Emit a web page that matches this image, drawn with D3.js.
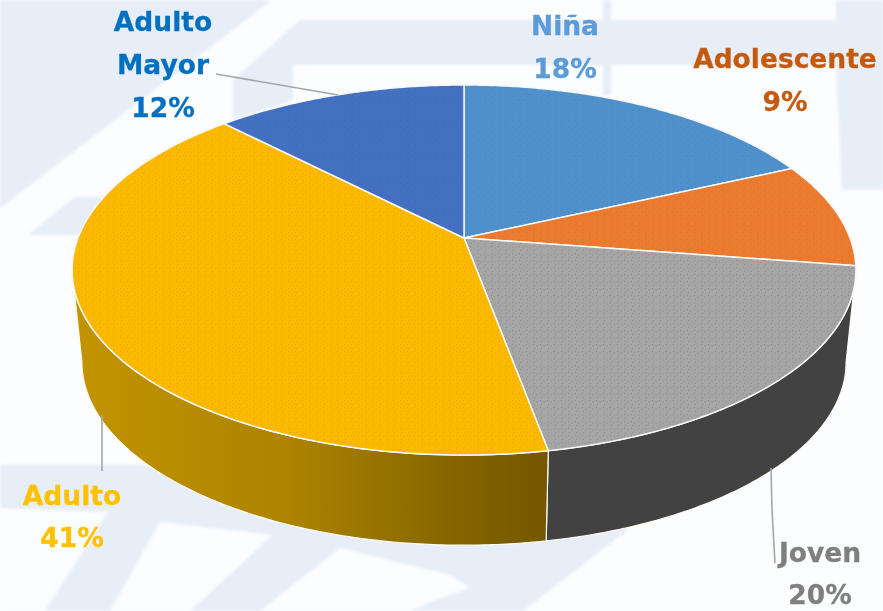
<!DOCTYPE html>
<html lang="es">
<head>
<meta charset="utf-8">
<style>
html,body{margin:0;padding:0;background:#fbfdff;overflow:hidden}
svg{display:block}
text{font-family:"DejaVu Sans",Verdana,sans-serif;font-weight:700;text-anchor:middle}
</style>
<script src="https://cdn.jsdelivr.net/npm/d3@7/dist/d3.min.js"></script>
</head>
<body>
<svg id="chart" width="883" height="611"></svg>
<script>
// Data
const categories = ["Niña", "Adolescente", "Joven", "Adulto", "Adulto Mayor"];
const shares = [18.2, 9.2, 19.7, 40.6, 12.3];

// Styles and layout (kept apart from the data)
const topColors = ["#4f90cd", "#ec7a2f", "#a5a5a5", "#fdb900", "#4470c1"];
const dotColors = ["#3f8a9e", "#c9702a", "#7d7f86", "#e0a000", "#3a64ad"];
const textColors = ["#5b9bd5", "#c55a11", "#7f7f7f", "#ffc000", "#0070c0"];
const labelLines = [["Niña"], ["Adolescente"], ["Joven"], ["Adulto"], ["Adulto", "Mayor"]];
const labelCenters = [[565, 35], [785, 68], [820, 562], [72, 505], [163, 31]];
const lineGaps = [43, 43, 42, 42, 43];
const leaders = [null, null, [[771, 468], [772, 510], [775, 563]], [[102, 415], [102, 471]], [[216, 74], [338, 95]]];
const geom = {cx: 464, apexY: 238, a: 386, b: 179.5, k: -0.173, ellipseY: 270, depth: 92, shrinkX: 0.975, shrinkY: 0.99};

const svg = d3.select("#chart");
const defs = svg.append("defs");

// Watermark behind the chart
defs.append("filter").attr("id", "soft").append("feGaussianBlur").attr("stdDeviation", 1.6);
defs.append("filter").attr("id", "softText").append("feGaussianBlur").attr("stdDeviation", 0.35);
const paleShapes = [
  [[0,0],[272,0],[0,208]],
  [[28,235],[75,197],[105,197],[80,235]],
  [[300,20],[603,20],[603,0],[611,0],[611,20],[836,20],[836,0],[883,0],[883,190],[842,190],[836,65],[611,65],[611,95],[603,95],[603,65],[293,65],[293,100],[233,120],[233,80]],
  [[0,465],[140,465],[630,528],[523,611],[0,611]]
];
const whiteShapes = [
  [[0,508],[108,512],[45,611],[0,611]],
  [[160,522],[273,535],[190,611],[110,611]],
  [[340,548],[450,575],[470,588],[445,596],[410,611],[260,611]]
];
const bg = svg.append("g").attr("filter", "url(#soft)");
const poly = d3.line().curve(d3.curveLinearClosed);
bg.selectAll("path.p").data(paleShapes).join("path").attr("class","p").attr("d", poly).attr("fill", "#e7eef8");
bg.selectAll("path.w").data(whiteShapes).join("path").attr("class","w").attr("d", poly).attr("fill", "#fbfdff");

// Dotted textures for the top faces
topColors.forEach((c, i) => {
  const p = defs.append("pattern").attr("id", "tex" + i).attr("patternUnits", "userSpaceOnUse")
    .attr("width", 7).attr("height", 7);
  p.append("rect").attr("width", 7).attr("height", 7).attr("fill", c);
  [[1.5,1.5],[5,3],[2.5,5.5]].forEach(d => p.append("circle").attr("cx", d[0]).attr("cy", d[1]).attr("r", 0.65).attr("fill", dotColors[i]).attr("opacity", 0.6));
});

// Side gradient
const g3 = defs.append("linearGradient").attr("id", "side3").attr("gradientUnits", "userSpaceOnUse")
  .attr("x1", 75).attr("x2", 549).attr("y1", 0).attr("y2", 0);
[[0,"#c39400"],[0.45,"#ad8300"],[0.8,"#856500"],[1,"#745700"]].forEach(s => g3.append("stop").attr("offset", s[0]).attr("stop-color", s[1]));
const sideFill = ["#3a5f8f", "#a85a22", "#424242", "url(#side3)", "#30508a"];

// Projection: pie plane -> screen with perspective
const project = (angle, r) => {
  const u = r * Math.sin(angle), v = -r * Math.cos(angle), w = 1 + geom.k * v;
  return [geom.cx + geom.a * u / w, geom.apexY + geom.b * v / w];
};
const projectBottom = angle => {
  const [x, y] = project(angle, 1);
  return [geom.cx + (x - geom.cx) * geom.shrinkX, geom.ellipseY + (y - geom.ellipseY) * geom.shrinkY + geom.depth];
};
const arcAngles = (from, to) => {
  const n = Math.max(2, Math.ceil((to - from) / 0.01));
  return d3.range(n + 1).map(i => from + (to - from) * i / n);
};

const slices = d3.pie().sort(null).value(d => d)(shares);
const line = d3.line();
// The rim faces the viewer between its widest points on screen
const frontFrom = Math.acos(geom.k), frontTo = 2 * Math.PI - frontFrom;

// Outer walls
svg.append("g").selectAll("path")
  .data(slices.filter(d => d.endAngle > frontFrom && d.startAngle < frontTo)).join("path")
  .attr("d", d => {
    const as = arcAngles(Math.max(d.startAngle, frontFrom), Math.min(d.endAngle, frontTo));
    return line(as.map(a => project(a, 1)).concat(as.slice().reverse().map(projectBottom))) + "Z";
  })
  .attr("fill", d => sideFill[d.index])
  .attr("stroke", "#fffdf0").attr("stroke-width", 1.2).attr("stroke-linejoin", "round");

// Top faces
svg.append("g").selectAll("path").data(slices).join("path")
  .attr("d", d => line([[geom.cx, geom.apexY]].concat(arcAngles(d.startAngle, d.endAngle).map(a => project(a, 1)))) + "Z")
  .attr("fill", d => `url(#tex${d.index})`)
  .attr("stroke", "#f6f8fa").attr("stroke-width", 1.5).attr("stroke-linejoin", "round");

// Leader lines
svg.append("g").selectAll("path").data(leaders.filter(Boolean)).join("path")
  .attr("d", line).attr("fill", "none").attr("stroke", "#a6a6a6").attr("stroke-width", 1.6);

// Labels
const labels = svg.append("g").attr("filter", "url(#softText)").selectAll("text").data(categories).join("text")
  .attr("fill", (d, i) => textColors[i]).attr("stroke", (d, i) => textColors[i]).attr("stroke-width", 0.3).attr("font-size", 26.5);
labels.each(function(d, i) {
  const t = d3.select(this), [x, y] = labelCenters[i];
  labelLines[i].concat([Math.round(shares[i]) + "%"]).forEach((s, j) => {
    t.append("tspan").attr("x", x).attr("y", y + j * lineGaps[i]).text(s);
  });
});
</script>
</body>
</html>
